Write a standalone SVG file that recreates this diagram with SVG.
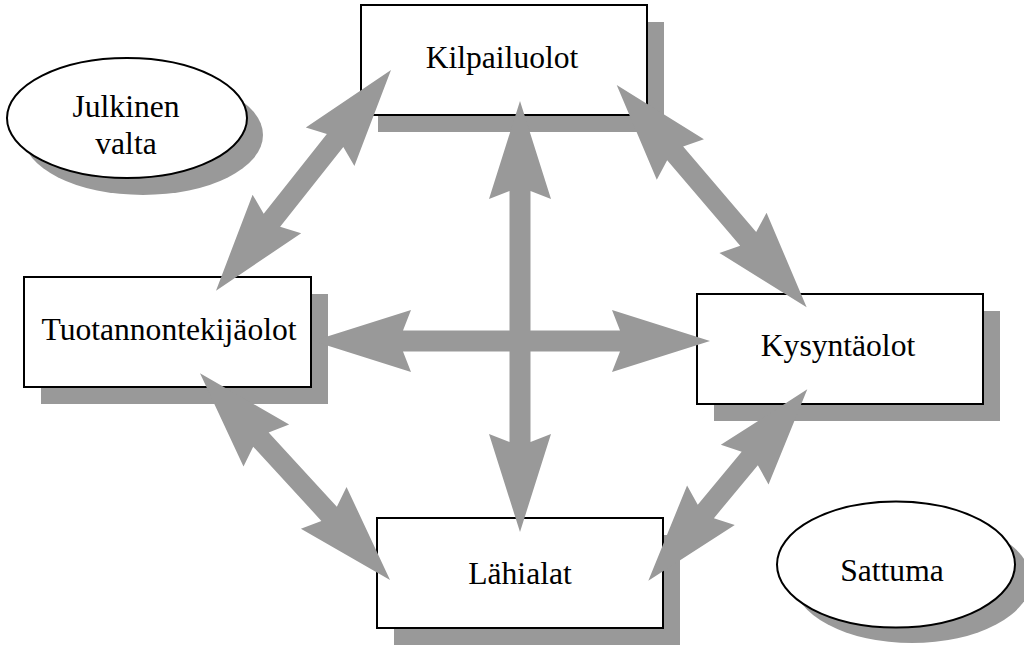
<svg xmlns="http://www.w3.org/2000/svg" width="1024" height="648" viewBox="0 0 1024 648">
<style>
.shadow{fill:#999999;stroke:none}
.box{fill:#ffffff;stroke:#000000;stroke-width:2}
.lbl{font-family:"Liberation Serif","Times New Roman",serif;font-size:31.6px;fill:#000000;text-anchor:middle}
.arrow{fill:#999999;stroke:none}
</style>
<rect width="1024" height="648" fill="#ffffff"/>
<g id="node-julkinen-valta">
<ellipse class="shadow" cx="143" cy="135" rx="120" ry="60"/>
<ellipse class="box" cx="127" cy="118" rx="120" ry="60"/>
<text class="lbl" x="126" y="117">Julkinen</text>
<text class="lbl" x="126" y="154">valta</text>
</g>
<g id="node-sattuma">
<ellipse class="shadow" cx="912" cy="580" rx="119" ry="63"/>
<ellipse class="box" cx="896" cy="564.5" rx="119" ry="63"/>
<text class="lbl" x="892" y="581">Sattuma</text>
</g>
<g id="node-kilpailuolot">
<rect class="shadow" x="378" y="22" width="286" height="110"/>
<rect class="box" x="361" y="5" width="286" height="110"/>
<text class="lbl" x="502" y="68">Kilpailuolot</text>
</g>
<g id="node-tuotannontekijaolot">
<rect class="shadow" x="41" y="294" width="287" height="110"/>
<rect class="box" x="24" y="277" width="287" height="110"/>
<text class="lbl" x="169" y="340">Tuotannontekijäolot</text>
</g>
<g id="node-kysyntaolot">
<rect class="shadow" x="714" y="311" width="286" height="110"/>
<rect class="box" x="697" y="294" width="286" height="110"/>
<text class="lbl" x="838" y="356">Kysyntäolot</text>
</g>
<g id="node-lahialat">
<rect class="shadow" x="394" y="535" width="286" height="110"/>
<rect class="box" x="377" y="518" width="286" height="110"/>
<text class="lbl" x="520" y="584">Lähialat</text>
</g>
<g id="connectors">
<path class="arrow" transform="translate(520,101) rotate(90)" d="M0,0 L98,-31 L90,-10.5 L341,-10.5 L333,-31 L431,0 L333,31 L341,10.5 L90,10.5 L98,31 Z"/>
<path class="arrow" transform="translate(313,341)" d="M0,0 L98,-31 L90,-10.5 L307,-10.5 L299,-31 L397,0 L299,31 L307,10.5 L90,10.5 L98,31 Z"/>
<path class="arrow" transform="translate(391,70) rotate(128.41)" d="M0,0 L98,-31 L90,-10.5 L191.7,-10.5 L183.7,-31 L281.7,0 L183.7,31 L191.7,10.5 L90,10.5 L98,31 Z"/>
<path class="arrow" transform="translate(616.7,85) rotate(49.49)" d="M0,0 L98,-31 L90,-10.5 L202.4,-10.5 L194.4,-31 L292.4,0 L194.4,31 L202.4,10.5 L90,10.5 L98,31 Z"/>
<path class="arrow" transform="translate(200,373.3) rotate(47.41)" d="M0,0 L98,-31 L90,-10.5 L190.8,-10.5 L182.8,-31 L280.8,0 L182.8,31 L190.8,10.5 L90,10.5 L98,31 Z"/>
<path class="arrow" transform="translate(807.3,389.3) rotate(129.72)" d="M0,0 L98,-31 L90,-10.5 L158.8,-10.5 L150.8,-31 L248.8,0 L150.8,31 L158.8,10.5 L90,10.5 L98,31 Z"/>
</g>
</svg>
